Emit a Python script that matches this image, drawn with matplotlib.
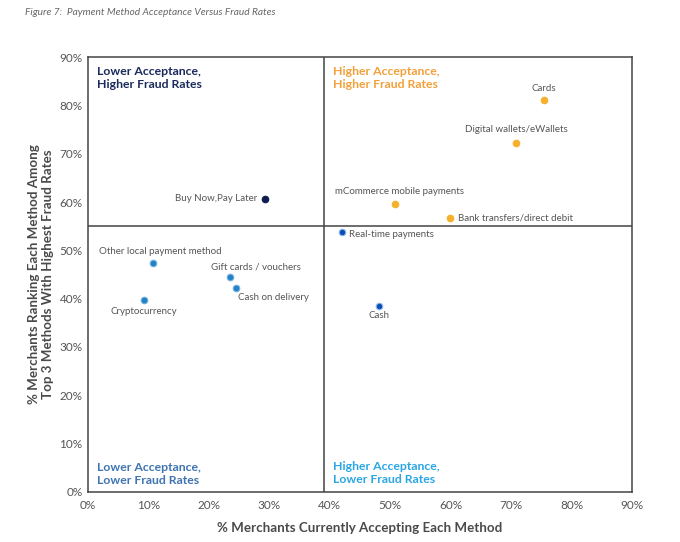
import matplotlib
matplotlib.use("Agg")
import matplotlib.pyplot as plt
from matplotlib.ticker import PercentFormatter

plt.rcParams['font.family'] = ['Lato', 'DejaVu Sans']

# acceptance (x) vs fraud ranking (y), in percent
methods = ['Cards', 'Digital wallets/eWallets', 'mCommerce mobile payments',
           'Bank transfers/direct debit', 'Real-time payments', 'Cash',
           'Buy Now,Pay Later', 'Other local payment method', 'Gift cards / vouchers',
           'Cash on delivery', 'Cryptocurrency']
acceptance = [75.4, 70.8, 50.8, 59.9, 42.0, 48.1, 29.3, 10.8, 23.5, 24.5, 9.3]
fraud_rank = [81.1, 72.2, 59.6, 56.7, 53.8, 38.5, 60.6, 47.4, 44.5, 42.2, 39.7]
group = ['hh', 'hh', 'hh', 'hh', 'hl', 'hl', 'lh', 'll', 'll', 'll', 'll']

x_split = 39
y_split = 55
ticks = [0, 10, 20, 30, 40, 50, 60, 70, 80, 90]

# label offsets in points, alignment
label_pos = {
    'Cards': (0, 8, 'center', 'center'),
    'Digital wallets/eWallets': (0, 10, 'center', 'center'),
    'mCommerce mobile payments': (3, 9, 'center', 'center'),
    'Bank transfers/direct debit': (6, 0, 'left', 'center'),
    'Real-time payments': (5.5, -1.6, 'left', 'center'),
    'Cash': (0, -7, 'center', 'center'),
    'Buy Now,Pay Later': (-5.5, 0.5, 'right', 'center'),
    'Other local payment method': (5, 8.4, 'center', 'center'),
    'Gift cards / vouchers': (-14, 7.4, 'left', 'center'),
    'Cash on delivery': (1.2, -7, 'left', 'center'),
    'Cryptocurrency': (0, -8.2, 'center', 'center'),
}

dot_face = {'hh': '#F6B12B', 'hl': '#0A4DB8', 'lh': '#0E1D4D', 'll': '#2182C6'}
dot_edge = {'hh': '#F6B12B', 'hl': '#8DB8EA', 'lh': '#0E1D4D', 'll': '#6FAEE0'}

fig = plt.figure(figsize=(6.8, 5.42), dpi=100)
ax = fig.add_axes([0.1294, 0.0923, 0.8, 0.8025])

for xv, yv, g in zip(acceptance, fraud_rank, group):
    ax.scatter(xv, yv, s=22, color=dot_face[g], edgecolors=dot_edge[g],
               linewidths=0.8, zorder=3)

for name, xv, yv in zip(methods, acceptance, fraud_rank):
    dx, dy, ha, va = label_pos[name]
    ax.annotate(name, (xv, yv), xytext=(dx, dy), textcoords='offset points',
                ha=ha, va=va, fontsize=7.0, color='#555555')

ax.axvline(x_split, color='#444444', lw=1.1, zorder=1)
ax.axhline(y_split, color='#444444', lw=1.1, zorder=1)

ax.set_xlim(0, 90)
ax.set_ylim(0, 90)
ax.set_xticks(ticks)
ax.set_yticks(ticks)
ax.xaxis.set_major_formatter(PercentFormatter(decimals=0))
ax.yaxis.set_major_formatter(PercentFormatter(decimals=0))
ax.tick_params(axis='x', length=0, labelsize=8.5, labelcolor='#555555', pad=6)
ax.tick_params(axis='y', length=0, labelsize=8.5, labelcolor='#555555', pad=4)
for s in ax.spines.values():
    s.set_color('#444444')
    s.set_linewidth(1.1)

qkw = dict(transform=ax.transAxes, fontsize=8.8, fontweight='bold', va='top', ha='left',
           linespacing=1.2)
ax.text(0.017, 0.980, 'Lower Acceptance,\nHigher Fraud Rates', color='#1B2A5C', **qkw)
ax.text(0.450, 0.980, 'Higher Acceptance,\nHigher Fraud Rates', color='#F2A03A', **qkw)
ax.text(0.017, 0.068, 'Lower Acceptance,\nLower Fraud Rates', color='#3E74B0', **qkw)
ax.text(0.450, 0.071, 'Higher Acceptance,\nLower Fraud Rates', color='#2AA6E2', **qkw)

ax.set_xlabel('% Merchants Currently Accepting Each Method', fontsize=9.6,
              fontweight='bold', color='#4a4a4a', labelpad=8)
ax.set_ylabel('% Merchants Ranking Each Method Among\nTop 3 Methods With Highest Fraud Rates',
              fontsize=9.6, fontweight='bold', color='#4a4a4a', labelpad=4)

fig.text(0.037, 0.985, 'Figure 7:  Payment Method Acceptance Versus Fraud Rates',
         fontsize=7.3, style='italic', color='#666666', va='top', ha='left')

fig.savefig('out.png', dpi=100)
